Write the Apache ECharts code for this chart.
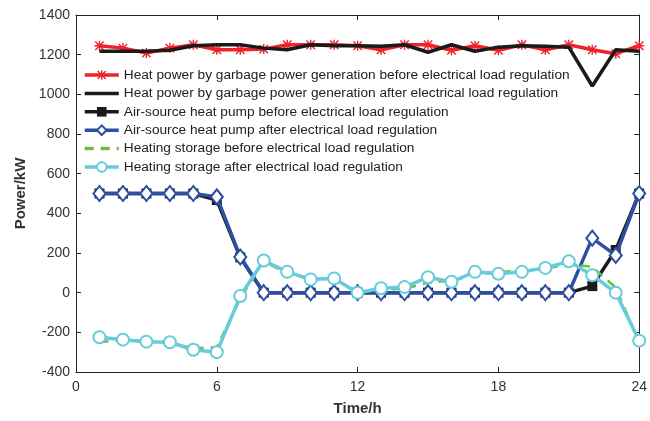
<!DOCTYPE html>
<html><head><meta charset="utf-8">
<script src="https://cdn.jsdelivr.net/npm/echarts@6/dist/echarts.min.js"></script>
<style>html,body{margin:0;padding:0;background:#fff}#c{width:650px;height:421px}</style>
</head><body><div id="c"></div>
<script>
const hours = [1,2,3,4,5,6,7,8,9,10,11,12,13,14,15,16,17,18,19,20,21,22,23,24];
const xTicks = [0,6,12,18,24];
const garbageBefore = [1245,1233,1208,1233,1250,1225,1225,1228,1250,1250,1250,1245,1225,1250,1250,1222,1245,1222,1250,1225,1250,1225,1205,1245];
const garbageAfter = [1217,1217,1217,1222,1245,1250,1250,1233,1225,1250,1245,1245,1242,1250,1212,1250,1217,1238,1245,1242,1238,1042,1225,1217];
const heatPumpBefore = [500,500,500,500,500,467,178,0,0,0,0,0,0,0,0,0,0,0,0,0,0,33,215,500];
const heatPumpAfter = [500,500,500,500,500,483,180,0,0,0,0,0,0,0,0,0,0,0,0,0,0,275,188,500];
const storageBefore = [-250,-237,-245,-255,-280,-275,-30,160,95,70,70,0,15,20,50,60,90,105,110,120,145,130,25,-250];
const storageAfter = [-225,-237,-247,-250,-288,-300,-17,162,105,67,72,0,22,28,78,55,105,95,105,125,158,88,0,-242];
const names = [
 'Heat power by garbage power generation before electrical load regulation',
 'Heat power by garbage power generation after electrical load regulation',
 'Air-source heat pump before electrical load regulation',
 'Air-source heat pump after electrical load regulation',
 'Heating storage before electrical load regulation',
 'Heating storage after electrical load regulation'
];
const pts = arr => hours.map((h,i)=>[h,arr[i]]);
const asterisk = 'path://M0,4.3L10,4.3L10,5.7L0,5.7Z M4.3,0L5.7,0L5.7,10L4.3,10Z M1.3,0.3L9.7,8.7L8.7,9.7L0.3,1.3Z M8.7,0.3L9.7,1.3L1.3,9.7L0.3,8.7Z';
const chart = echarts.init(document.getElementById('c'));
const font = 'Arial, "Liberation Sans", sans-serif';
const ax = {
  axisLine:{show:true,onZero:false,lineStyle:{color:'#222'}},
  axisTick:{show:true,inside:true,length:5,lineStyle:{color:'#222'}},
  splitLine:{show:false}
};
chart.setOption({
  animation:false,
  grid:{left:76,right:3,top:15,bottom:46,show:false},
  legend:{
    orient:'vertical',left:78,top:63,itemWidth:34,itemHeight:12,itemGap:4.4,
    lineStyle:{width:3.5},
    textStyle:{fontSize:13.7,fontFamily:font,color:'#222'},
    data:[
      {name:names[0]},
      {name:names[1],itemStyle:{opacity:0}},
      {name:names[2]},
      {name:names[3]},
      {name:names[4],itemStyle:{opacity:0}},
      {name:names[5]}
    ]
  },
  xAxis:[Object.assign({
    type:'value',min:0,max:24,interval:6,
    name:'Time/h',nameLocation:'middle',nameGap:29,
    nameTextStyle:{fontSize:15,fontWeight:'bold',fontFamily:font,color:'#333'},
    axisLabel:{fontSize:14,fontFamily:font,color:'#333',margin:8,formatter:v=>xTicks.includes(v)?String(v):''}
  },ax),Object.assign({
    type:'value',position:'top',min:0,max:24,interval:6,axisLabel:{show:false}
  },ax)],
  yAxis:[Object.assign({
    type:'value',min:-400,max:1400,interval:200,
    name:'Power/kW',nameLocation:'middle',nameGap:47,nameRotate:90,
    nameTextStyle:{fontSize:15,fontWeight:'bold',fontFamily:font,color:'#333'},
    axisLabel:{fontSize:14,fontFamily:font,color:'#333',margin:6,formatter:v=>String(v)}
  },ax),Object.assign({
    type:'value',position:'right',min:-400,max:1400,interval:200,axisLabel:{show:false}
  },ax)],
  series:[
    {name:names[0],type:'line',data:pts(garbageBefore),color:'#ee2229',symbol:asterisk,symbolSize:10,
     lineStyle:{width:3.5,color:'#ee2229'},itemStyle:{color:'#ee2229'},z:2},
    {name:names[1],type:'line',data:pts(garbageAfter),color:'#1a1a1a',symbol:'none',
     lineStyle:{width:3.5,color:'#1a1a1a'},z:3},
    {name:names[2],type:'line',data:pts(heatPumpBefore),color:'#1a1a1a',symbol:'rect',symbolSize:10,
     lineStyle:{width:3.5,color:'#1a1a1a'},itemStyle:{color:'#1a1a1a'},z:4},
    {name:names[3],type:'line',data:pts(heatPumpAfter),color:'#2d4fa3',symbol:'emptyDiamond',symbolSize:[12,15],
     lineStyle:{width:3.5,color:'#2d4fa3'},itemStyle:{color:'#2d4fa3',borderColor:'#2d4fa3',borderWidth:3},z:5},
    {name:names[4],type:'line',data:pts(storageBefore),color:'#6cbd3f',symbol:'none',
     lineStyle:{width:2.5,color:'#6cbd3f',type:[9,7]},z:6},
    {name:names[5],type:'line',data:pts(storageAfter),color:'#66cbdb',symbol:'emptyCircle',symbolSize:12,
     lineStyle:{width:3.5,color:'#66cbdb'},itemStyle:{color:'#66cbdb',borderColor:'#66cbdb',borderWidth:3},z:7}
  ]
});
</script></body></html>
